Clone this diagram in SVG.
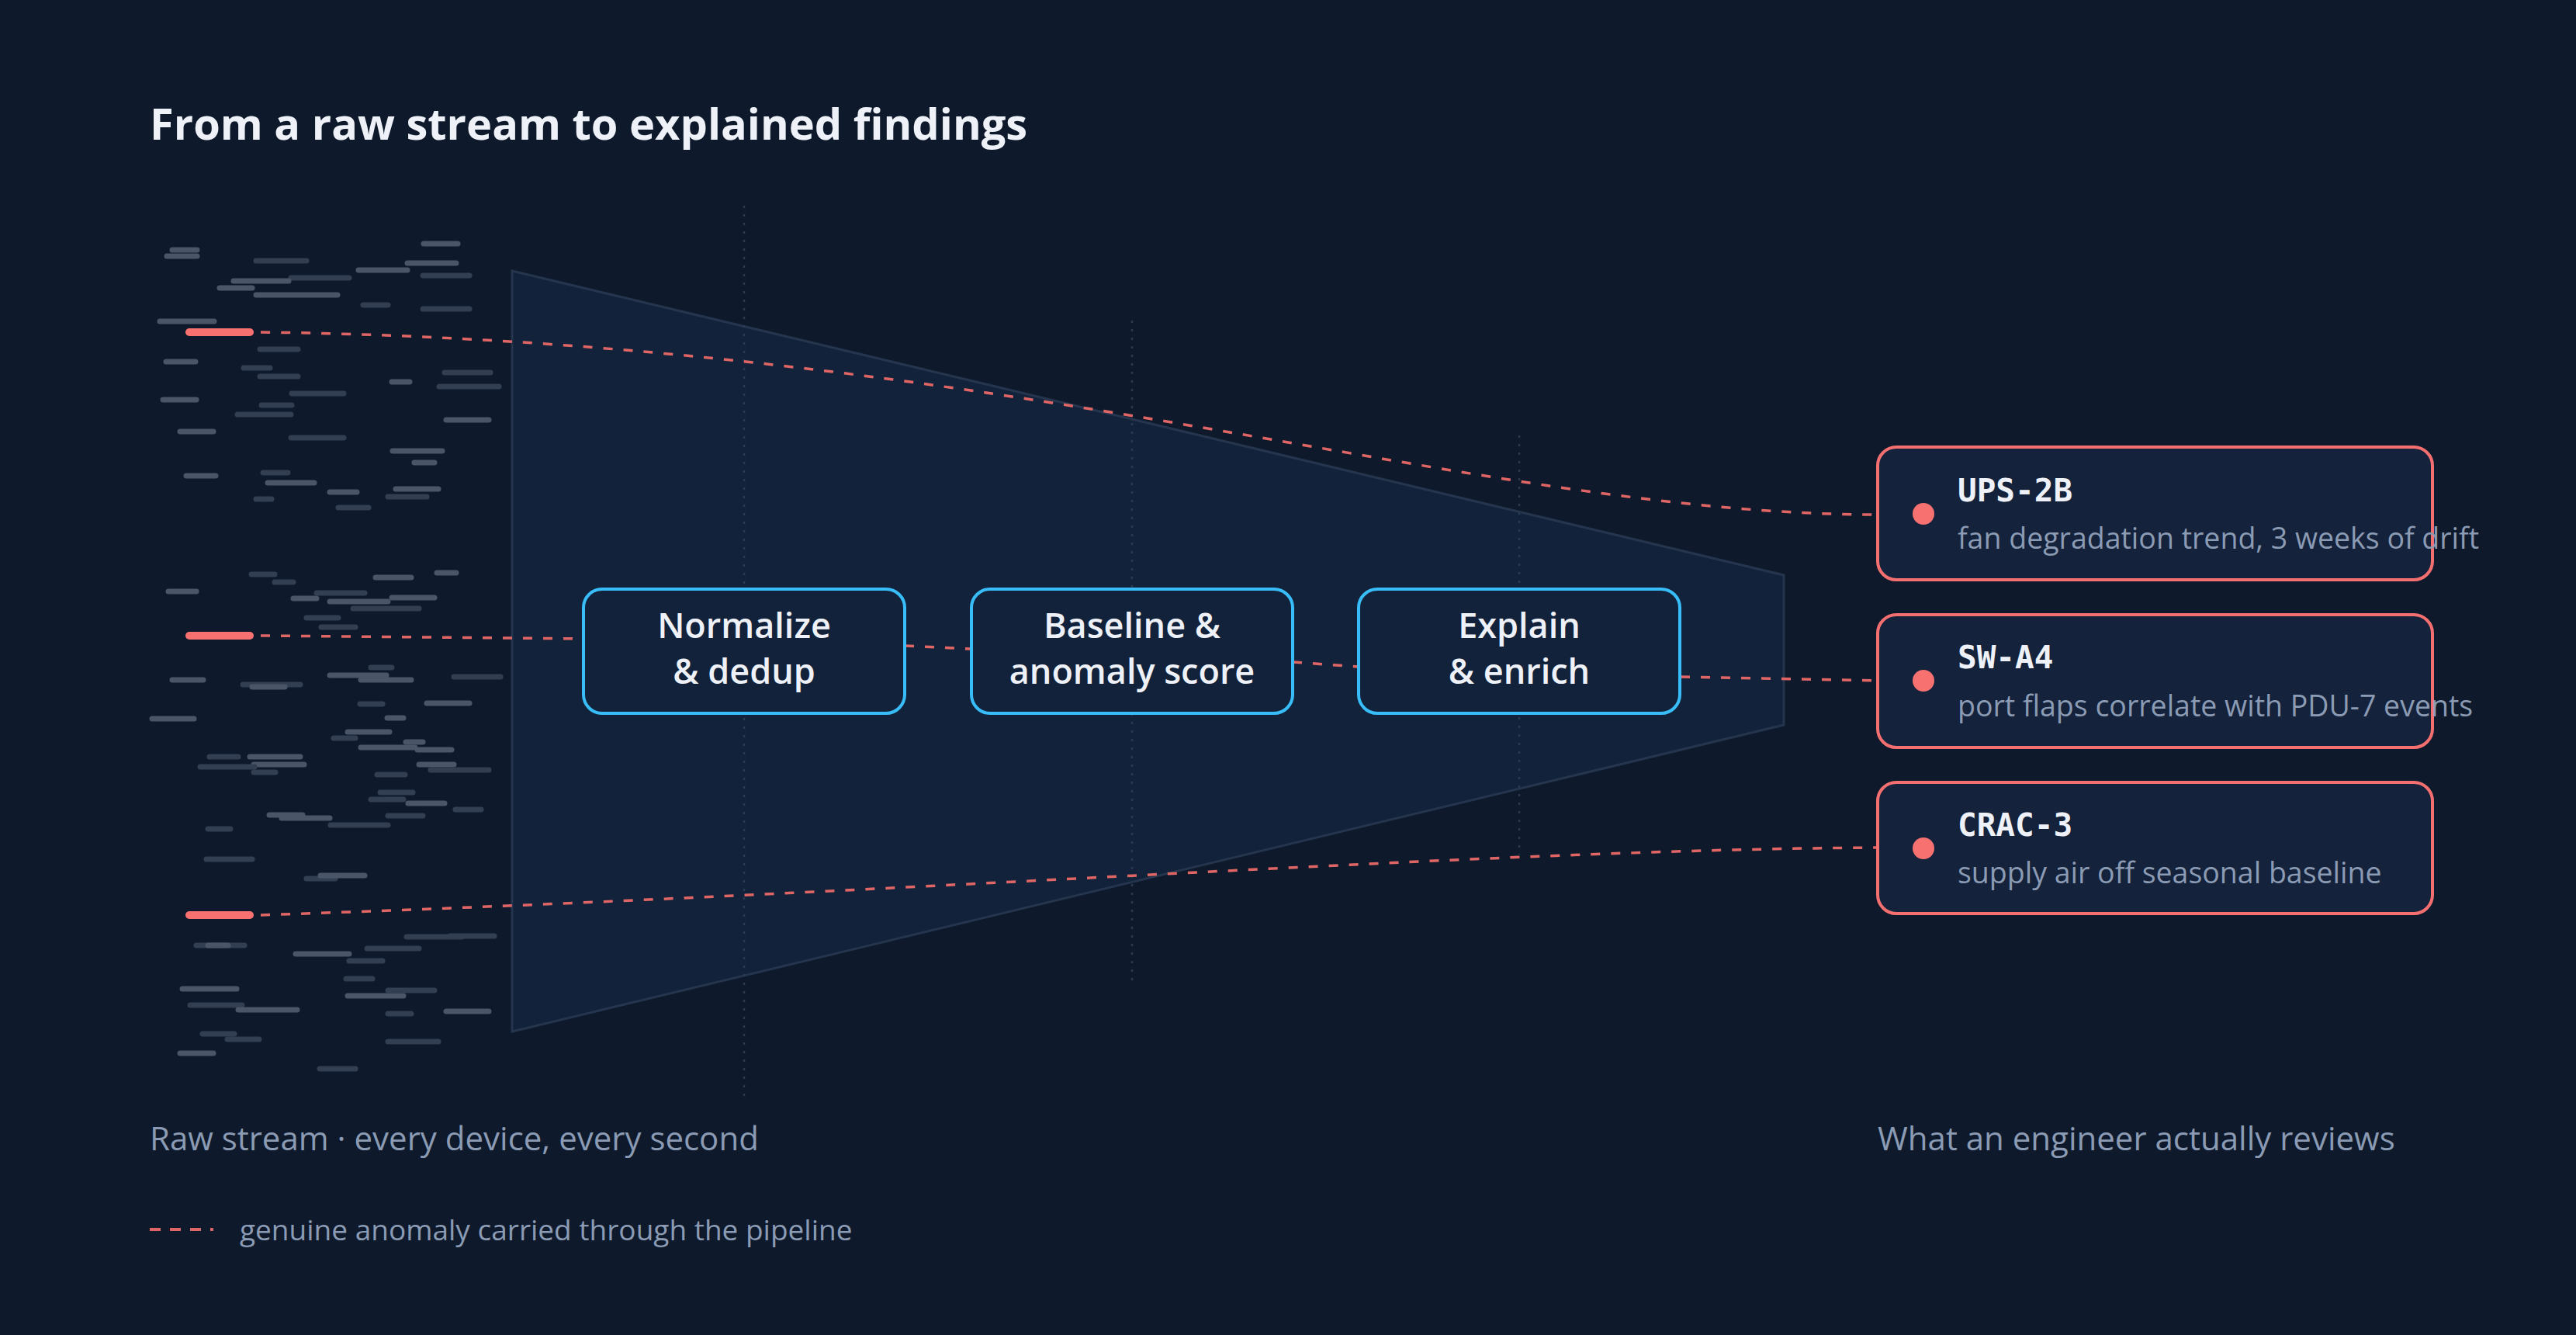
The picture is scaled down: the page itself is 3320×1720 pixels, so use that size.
<svg xmlns="http://www.w3.org/2000/svg" width="3320" height="1720" viewBox="0 0 3320 1720">
<style>
.t{font-family:"Open Sans","Noto Sans",sans-serif}
.n1{stroke:#4a5668;stroke-width:7;stroke-linecap:round}
.n2{stroke:#323e52;stroke-width:7;stroke-linecap:round}
.st{fill:#13223b;stroke:#38bdf8;stroke-width:4}
.fd{fill:#14223b;stroke:#f47070;stroke-width:4}
.an{fill:none;stroke:#e06666;stroke-width:3.5;stroke-dasharray:12 14}
.vg{stroke:#2a3a52;stroke-width:2.5;stroke-dasharray:3 8}
.lbl{font-family:"Open Sans","Noto Sans",sans-serif;font-size:45px;font-weight:600;fill:#eef2f8;text-anchor:middle}
.fh{font-family:"DejaVu Sans Mono",monospace;font-size:41px;font-weight:bold;fill:#eef2f8}
.fs{font-family:"Open Sans","Noto Sans",sans-serif;font-size:37.5px;fill:#8b9bb4}
</style>
<rect width="3320" height="1720" fill="#0e1a2b"/>
<text class="t" x="193" y="180" font-size="56" font-weight="bold" fill="#eef2f8">From a raw stream to explained findings</text>
<g id="noise" transform="translate(0,18)">
<line class="n1" x1="222" y1="304" x2="254" y2="304"/><line class="n1" x1="215" y1="312" x2="254" y2="312"/>
<line class="n2" x1="330" y1="318" x2="395" y2="318"/><line class="n1" x1="462" y1="330" x2="525" y2="330"/>
<line class="n1" x1="546" y1="296" x2="590" y2="296"/><line class="n2" x1="375" y1="340" x2="450" y2="340"/>
<line class="n1" x1="525" y1="321" x2="588" y2="321"/><line class="n1" x1="301" y1="344" x2="372" y2="344"/>
<line class="n2" x1="545" y1="337" x2="605" y2="337"/><line class="n1" x1="283" y1="353" x2="325" y2="353"/>
<line class="n1" x1="330" y1="362" x2="435" y2="362"/><line class="n2" x1="468" y1="375" x2="500" y2="375"/>
<line class="n2" x1="545" y1="380" x2="605" y2="380"/><line class="n1" x1="206" y1="396" x2="276" y2="396"/>
<line class="n2" x1="335" y1="432" x2="384" y2="432"/><line class="n2" x1="314" y1="456" x2="348" y2="456"/>
<line class="n2" x1="566" y1="480" x2="643" y2="480"/><line class="n1" x1="214" y1="448" x2="252" y2="448"/>
<line class="n2" x1="335" y1="467" x2="384" y2="467"/><line class="n1" x1="210" y1="497" x2="253" y2="497"/>
<line class="n2" x1="306" y1="516" x2="375" y2="516"/><line class="n2" x1="376" y1="489" x2="443" y2="489"/>
<line class="n1" x1="505" y1="474" x2="528" y2="474"/><line class="n1" x1="575" y1="523" x2="630" y2="523"/>
<line class="n2" x1="573" y1="462" x2="632" y2="462"/><line class="n1" x1="232" y1="538" x2="275" y2="538"/>
<line class="n2" x1="375" y1="546" x2="443" y2="546"/><line class="n1" x1="506" y1="563" x2="570" y2="563"/>
<line class="n2" x1="337" y1="504" x2="376" y2="504"/><line class="n1" x1="510" y1="612" x2="565" y2="612"/>
<line class="n2" x1="339" y1="591" x2="371" y2="591"/><line class="n1" x1="345" y1="604" x2="405" y2="604"/>
<line class="n2" x1="330" y1="625" x2="350" y2="625"/><line class="n1" x1="425" y1="616" x2="460" y2="616"/>
<line class="n2" x1="436" y1="636" x2="475" y2="636"/><line class="n1" x1="240" y1="595" x2="278" y2="595"/>
<line class="n2" x1="500" y1="622" x2="550" y2="622"/><line class="n1" x1="534" y1="578" x2="560" y2="578"/>
<line class="n2" x1="324" y1="722" x2="354" y2="722"/><line class="n1" x1="217" y1="744" x2="253" y2="744"/>
<line class="n2" x1="354" y1="732" x2="378" y2="732"/><line class="n1" x1="378" y1="753" x2="408" y2="753"/>
<line class="n2" x1="408" y1="746" x2="470" y2="746"/><line class="n1" x1="484" y1="726" x2="530" y2="726"/>
<line class="n1" x1="563" y1="720" x2="588" y2="720"/><line class="n2" x1="455" y1="766" x2="540" y2="766"/>
<line class="n1" x1="425" y1="757" x2="500" y2="757"/><line class="n2" x1="395" y1="778" x2="436" y2="778"/>
<line class="n2" x1="414" y1="790" x2="458" y2="790"/>
<line class="n1" x1="505" y1="752" x2="560" y2="752"/><line class="n1" x1="222" y1="858" x2="262" y2="858"/>
<line class="n2" x1="313" y1="864" x2="387" y2="864"/><line class="n1" x1="325" y1="867" x2="367" y2="867"/>
<line class="n1" x1="425" y1="852" x2="498" y2="852"/><line class="n1" x1="465" y1="858" x2="530" y2="858"/>
<line class="n2" x1="478" y1="842" x2="505" y2="842"/><line class="n2" x1="585" y1="854" x2="645" y2="854"/>
<line class="n1" x1="196" y1="908" x2="250" y2="908"/><line class="n2" x1="464" y1="889" x2="493" y2="889"/>
<line class="n1" x1="550" y1="888" x2="605" y2="888"/><line class="n1" x1="499" y1="907" x2="520" y2="907"/>
<line class="n1" x1="448" y1="925" x2="502" y2="925"/><line class="n2" x1="430" y1="933" x2="458" y2="933"/>
<line class="n1" x1="523" y1="938" x2="545" y2="938"/><line class="n1" x1="465" y1="945" x2="535" y2="945"/>
<line class="n2" x1="270" y1="957" x2="307" y2="957"/><line class="n1" x1="322" y1="957" x2="387" y2="957"/>
<line class="n1" x1="327" y1="967" x2="392" y2="967"/><line class="n2" x1="258" y1="970" x2="328" y2="970"/>
<line class="n2" x1="327" y1="977" x2="355" y2="977"/><line class="n2" x1="486" y1="980" x2="522" y2="980"/>
<line class="n1" x1="540" y1="967" x2="585" y2="967"/><line class="n2" x1="555" y1="974" x2="630" y2="974"/>
<line class="n1" x1="538" y1="948" x2="582" y2="948"/><line class="n2" x1="490" y1="1003" x2="532" y2="1003"/>
<line class="n2" x1="478" y1="1012" x2="520" y2="1012"/><line class="n1" x1="526" y1="1017" x2="573" y2="1017"/>
<line class="n2" x1="587" y1="1025" x2="620" y2="1025"/><line class="n2" x1="500" y1="1033" x2="545" y2="1033"/>
<line class="n1" x1="347" y1="1032" x2="390" y2="1032"/><line class="n1" x1="363" y1="1036" x2="425" y2="1036"/>
<line class="n2" x1="426" y1="1045" x2="500" y2="1045"/><line class="n2" x1="268" y1="1050" x2="297" y2="1050"/>
<line class="n2" x1="266" y1="1089" x2="325" y2="1089"/><line class="n2" x1="395" y1="1114" x2="432" y2="1114"/>
<line class="n1" x1="413" y1="1110" x2="470" y2="1110"/><line class="n2" x1="253" y1="1200" x2="315" y2="1200"/>
<line class="n1" x1="268" y1="1200" x2="294" y2="1200"/><line class="n1" x1="381" y1="1211" x2="450" y2="1211"/>
<line class="n2" x1="473" y1="1204" x2="540" y2="1204"/><line class="n2" x1="450" y1="1220" x2="493" y2="1220"/>
<line class="n2" x1="524" y1="1189" x2="595" y2="1189"/><line class="n2" x1="580" y1="1188" x2="637" y2="1188"/>
<line class="n1" x1="235" y1="1256" x2="305" y2="1256"/><line class="n2" x1="446" y1="1243" x2="480" y2="1243"/>
<line class="n1" x1="448" y1="1265" x2="520" y2="1265"/><line class="n2" x1="500" y1="1258" x2="560" y2="1258"/>
<line class="n2" x1="245" y1="1277" x2="312" y2="1277"/><line class="n1" x1="307" y1="1283" x2="383" y2="1283"/>
<line class="n2" x1="500" y1="1288" x2="530" y2="1288"/><line class="n1" x1="575" y1="1285" x2="630" y2="1285"/>
<line class="n2" x1="261" y1="1314" x2="302" y2="1314"/><line class="n2" x1="293" y1="1321" x2="334" y2="1321"/>
<line class="n1" x1="232" y1="1339" x2="275" y2="1339"/><line class="n2" x1="500" y1="1324" x2="565" y2="1324"/>
<line class="n2" x1="412" y1="1359" x2="458" y2="1359"/>
</g>
<g id="funnel">
<polygon points="660,349 2299,741 2299,934 660,1329" fill="#11223a" stroke="#25354e" stroke-width="3"/>
<line class="vg" x1="959" y1="265" x2="959" y2="1414"/>
<line class="vg" x1="1459" y1="413" x2="1459" y2="1266"/>
<line class="vg" x1="1958" y1="561" x2="1958" y2="1101"/>
</g>
<g id="stubs" stroke="#f87171" stroke-width="10" stroke-linecap="round">
<line x1="244" y1="428" x2="322" y2="428"/>
<line x1="244" y1="819" x2="322" y2="819"/>
<line x1="244" y1="1179" x2="322" y2="1179"/>
</g>
<g id="connectors">
<path class="an" d="M336,428 C1300,440 1900,663 2420,663"/>
<path class="an" d="M336,819 L752,823"/>
<path class="an" d="M1166,832 L1251,836"/>
<path class="an" d="M1666,853 L1751,859"/>
<path class="an" d="M2166,872 L2420,877"/>
<path class="an" d="M336,1179 C1200,1150 1900,1095 2420,1092"/>
</g>
<g id="normalize"><rect class="st" x="752" y="759" width="414" height="160" rx="24"/>
<text class="lbl" x="959" y="822">Normalize</text><text class="lbl" x="959" y="881">&amp; dedup</text></g>
<g id="baseline"><rect class="st" x="1252" y="759" width="414" height="160" rx="24"/>
<text class="lbl" x="1459" y="822">Baseline &amp;</text><text class="lbl" x="1459" y="881">anomaly score</text></g>
<g id="explain"><rect class="st" x="1751" y="759" width="414" height="160" rx="24"/>
<text class="lbl" x="1958" y="822">Explain</text><text class="lbl" x="1958" y="881">&amp; enrich</text></g>
<g id="ups2b"><rect class="fd" x="2420" y="576" width="715" height="171" rx="24"/>
<circle cx="2479" cy="662" r="14" fill="#f87171"/>
<text class="fh" x="2523" y="646">UPS-2B</text><text class="fs" x="2523" y="707">fan degradation trend, 3 weeks of drift</text></g>
<g id="swa4"><rect class="fd" x="2420" y="792" width="715" height="171" rx="24"/>
<circle cx="2479" cy="877" r="14" fill="#f87171"/>
<text class="fh" x="2523" y="861">SW-A4</text><text class="fs" x="2523" y="923">port flaps correlate with PDU-7 events</text></g>
<g id="crac3"><rect class="fd" x="2420" y="1008" width="715" height="169" rx="24"/>
<circle cx="2479" cy="1093" r="14" fill="#f87171"/>
<text class="fh" x="2523" y="1077">CRAC-3</text><text class="fs" x="2523" y="1138">supply air off seasonal baseline</text></g>
<text class="t" x="193" y="1482" font-size="42" fill="#8b9bb4">Raw stream · every device, every second</text>
<text class="t" x="2420" y="1482" font-size="42" fill="#8b9bb4">What an engineer actually reviews</text>
<g id="legend"><line x1="193" y1="1584" x2="275" y2="1584" stroke="#e06666" stroke-width="4" stroke-dasharray="14 12"/>
<text class="t" x="309" y="1598" font-size="37" fill="#8b9bb4">genuine anomaly carried through the pipeline</text></g>
</svg>
